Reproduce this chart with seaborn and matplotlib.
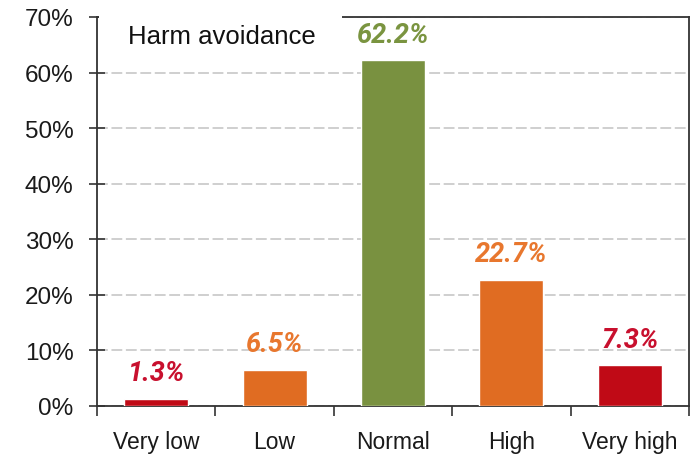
import pandas as pd
import matplotlib.pyplot as plt
import seaborn as sns
from matplotlib.ticker import FixedLocator
from matplotlib.patches import Rectangle

# Data
categories = ['Very low', 'Low', 'Normal', 'High', 'Very high']
shares = [1.3, 6.5, 62.2, 22.7, 7.3]
bar_colors = ['#C00A16', '#E06C22', '#799140', '#E06C22', '#C00A16']
label_colors = ['#C8102E', '#E8772E', '#7A9440', '#E8772E', '#C8102E']

df = pd.DataFrame({'level': categories, 'share': shares})

sns.set_style('white')
plt.rcParams['font.family'] = ['Liberation Sans', 'DejaVu Sans']

fig = plt.figure(figsize=(6.95, 4.6), dpi=100)
ax = fig.add_axes([97 / 695, 1 - 407 / 460, 592 / 695, 389 / 460])

sns.barplot(data=df, x='level', y='share', hue='level', palette=bar_colors,
            legend=False, width=0.54, saturation=1, ax=ax, zorder=3)

ax.set_ylim(0, 70)
ax.set_xlim(-0.5, 4.5)
ax.set_yticks(range(0, 71, 10))
ax.set_yticklabels([f'{v}%' for v in range(0, 71, 10)])
ax.set_xlabel('')
ax.set_ylabel('')

# dashed horizontal gridlines
ax.yaxis.grid(True, linestyle=(0, (6, 2)), color='#CCCCCC', linewidth=1.3, zorder=0)
ax.set_axisbelow(True)

for side in ['left', 'right', 'top', 'bottom']:
    ax.spines[side].set_visible(True)
    ax.spines[side].set_color('#333333')
    ax.spines[side].set_linewidth(1.3)

ax.tick_params(axis='y', direction='inout', length=12, width=1.2, color='#333333',
               labelsize=17.5, labelcolor='#1a1a1a', pad=11, left=True)
ax.tick_params(axis='x', which='major', length=0, labelsize=16.5,
               labelcolor='#1a1a1a', pad=17)
ax.xaxis.set_minor_locator(FixedLocator([-0.5, 0.5, 1.5, 2.5, 3.5, 4.5]))
ax.tick_params(axis='x', which='minor', direction='out', length=7, width=1.2,
               color='#333333', bottom=True)

# value labels above bars
for i, (v, c) in enumerate(zip(shares, label_colors)):
    ax.annotate(f'{v}%', (i, v), xytext=(0, 9), textcoords='offset points',
                ha='center', va='bottom', color=c, fontsize=19.5,
                fontweight='bold', fontstyle='italic',
                family=['Roboto', 'Liberation Sans'])

# white box behind the title hides the left part of the top spine
ax.add_patch(Rectangle((0.004, 0.9), 0.41, 0.12, transform=ax.transAxes,
                       facecolor='white', edgecolor='none', clip_on=False, zorder=4))
ax.text(0.053, 0.952, 'Harm avoidance', transform=ax.transAxes, fontsize=18.5,
        color='#111111', ha='left', va='center', zorder=5)

plt.savefig('out.png', dpi=100)
